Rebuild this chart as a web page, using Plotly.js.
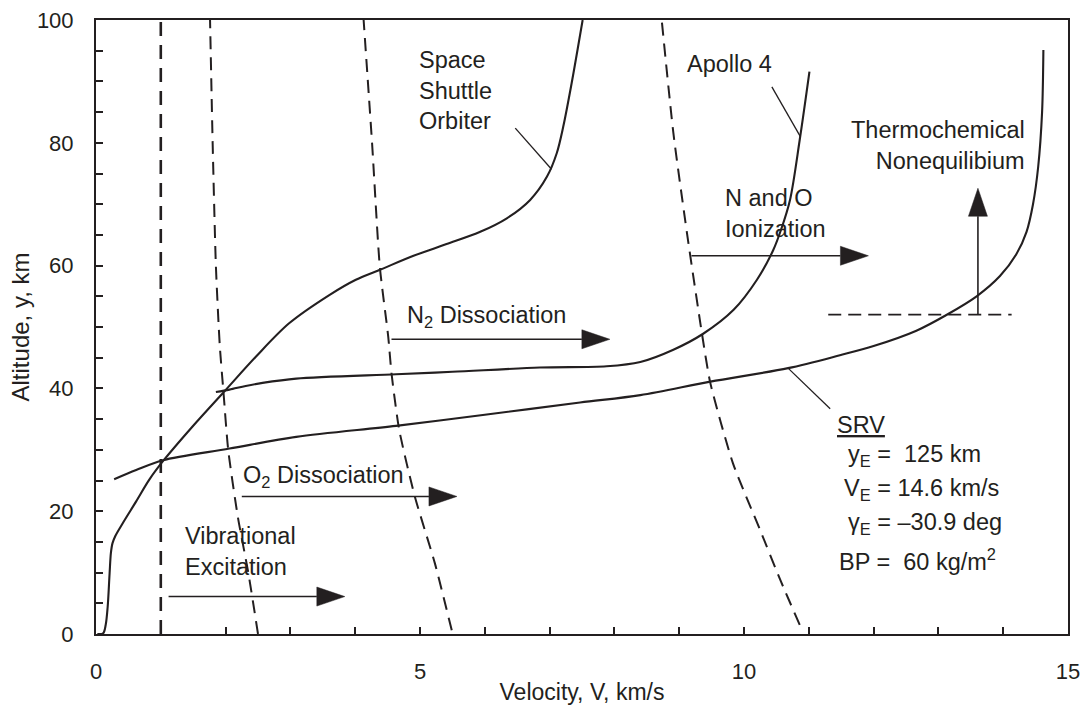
<!DOCTYPE html>
<html>
<head>
<meta charset="utf-8">
<script src="https://cdn.plot.ly/plotly-3.0.1.min.js"></script>
<style>
  html, body { margin: 0; padding: 0; background: #ffffff; }
  #chart { width: 1086px; height: 706px; }
</style>
</head>
<body>
<div id="chart"></div>
<script>
// Entry trajectories: velocity (km/s) vs altitude (km)
const shuttleV = [0.02, 0.11, 0.15, 0.18, 0.21, 0.23, 0.255, 0.30, 0.41, 0.62, 0.82, 1.03, 1.49, 1.98, 2.47, 2.98, 3.60, 4.01, 4.40, 4.90, 5.41, 5.93, 6.34, 6.70, 6.96, 7.11, 7.21, 7.34, 7.51];
const shuttleH = [0, 0.1, 1.5, 4.4, 9.9, 13.2, 14.8, 16.0, 18.0, 21.6, 25.1, 28.1, 33.8, 39.5, 45.2, 50.6, 55.2, 57.7, 59.4, 61.6, 63.5, 65.5, 67.7, 70.7, 74.5, 78.3, 82.6, 89.7, 100];

const apolloV = [1.85, 2.06, 2.31, 2.57, 3.09, 4.63, 5.5, 6.85, 7.88, 8.40, 8.91, 9.37, 9.84, 10.20, 10.45, 10.57, 10.71, 10.86, 11.01];
const apolloH = [39.4, 39.8, 40.4, 40.9, 41.6, 42.3, 42.7, 43.4, 43.6, 44.3, 46.3, 48.9, 52.8, 57.7, 62.5, 65.8, 70.7, 80.5, 91.6];

const srvV = [0.28, 0.62, 1.03, 2.06, 3.09, 4.63, 6.0, 7.47, 8.40, 9.48, 10.68, 11.48, 12.0, 12.66, 13.13, 13.59, 13.95, 14.2, 14.36, 14.46, 14.54, 14.6, 14.62];
const srvH = [25.2, 26.7, 28.3, 30.2, 32.1, 33.9, 35.7, 37.7, 38.9, 41.1, 43.3, 45.4, 46.9, 49.4, 52.0, 55.0, 58.3, 61.8, 65.5, 70.0, 76.1, 85.0, 95.1];

// Boundaries of the real-gas regimes
const vibV = [1.0, 1.0];
const vibH = [0, 100];
const o2V = [2.5, 2.35, 2.19, 2.04, 1.97, 1.91, 1.85, 1.80, 1.76];
const o2H = [0, 10, 19, 30, 39, 47, 60, 80, 100];
const n2V = [5.49, 5.23, 4.92, 4.68, 4.56, 4.51, 4.38, 4.26, 4.13];
const n2H = [0.6, 11.5, 22.4, 33.2, 42.5, 48.4, 59.8, 80, 100];
const ionV = [10.86, 10.56, 10.25, 9.83, 9.48, 9.35, 9.12, 8.91, 8.73];
const ionH = [1.5, 8.8, 16.9, 27.8, 40.9, 49, 65.3, 81.6, 100];
const noneqV = [11.30, 14.13];
const noneqH = [52, 52];

// Regime arrows (horizontal: start, tip, altitude; vertical: velocity, start, tip)
const arrowStartV = [1.12, 2.25, 4.56, 9.19];
const arrowTipV = [3.84, 5.57, 7.93, 11.92];
const arrowH = [6.1, 22.4, 48.0, 61.6];
const upArrowV = 13.61;
const upArrowH = [52, 72.6];

// Leader lines from labels to curves: [v0, h0, v1, h1]
const leaders = [
  [6.47, 82.4, 7.03, 75.7],
  [10.43, 89.1, 10.87, 81.0],
  [10.68, 43.3, 11.33, 36.7]
];

// Text labels
const labelText = [
  'Space<br>Shuttle<br>Orbiter',
  'Apollo 4',
  'N and O<br>Ionization',
  'Thermochemical<br>Nonequilibium',
  'N<sub>2</sub> Dissociation',
  'O<sub>2</sub> Dissociation',
  'Vibrational<br>Excitation'
];
const labelV = [4.95, 9.09, 9.67, 14.36, 4.77, 2.23, 1.34];
const labelH = [88.5, 92.9, 68.5, 79.6, 51.7, 25.6, 13.4];
const labelAnchor = ['left', 'left', 'left', 'right', 'left', 'left', 'left'];

const srvText = [
  '<u>SRV</u>',
  'y<sub>E</sub> =  125 km',
  'V<sub>E</sub> = 14.6 km/s',
  'γ<sub>E</sub> = –30.9 deg',
  'BP =  60 kg/m<sup>2</sup>'
];
const srvTextV = [11.40, 11.58, 11.51, 11.58, 11.43];
const srvTextH = [34.0, 29.0, 23.6, 18.0, 12.1];

const xTickVals = [0, 5, 10, 15];
const yTickVals = [0, 20, 40, 60, 80, 100];

// ---- drawing ----
const INK = '#231f20';
const FONT = 'Liberation Sans, Arial, Helvetica, sans-serif';
const W = 1086, H = 706;
const M = { l: 96, r: 18, t: 20, b: 72 };
const X_RANGE = [0, 15], Y_RANGE = [0, 100];
const pxPerV = (W - M.l - M.r) / (X_RANGE[1] - X_RANGE[0]);
const pxPerH = (H - M.t - M.b) / (Y_RANGE[1] - Y_RANGE[0]);

function solid(x, y) {
  return { x: x, y: y, mode: 'lines', type: 'scatter', hoverinfo: 'skip',
           line: { color: INK, width: 2.1, shape: 'spline', smoothing: 0.9 } };
}
function dashed(x, y, w, pattern) {
  return { x: x, y: y, mode: 'lines', type: 'scatter', hoverinfo: 'skip',
           line: { color: INK, width: w, dash: pattern, shape: 'spline', smoothing: 0.6 } };
}

const traces = [
  dashed(vibV, vibH, 2.6, '14px,9px'),
  dashed(o2V, o2H, 2, '13px,8px'),
  dashed(n2V, n2H, 2, '13px,8px'),
  dashed(ionV, ionH, 2, '13px,8px'),
  dashed(noneqV, noneqH, 1.7, '13px,7px'),
  solid(shuttleV, shuttleH),
  solid(apolloV, apolloH),
  solid(srvV, srvH)
];

// Arrow shafts and filled heads as layout shapes
const shapes = [];
const headLen = 28, headHalf = 9.5;
for (let i = 0; i < arrowTipV.length; i++) {
  const base = arrowTipV[i] - headLen / pxPerV;
  const hw = headHalf / pxPerH;
  shapes.push({ type: 'line', xref: 'x', yref: 'y', x0: arrowStartV[i], y0: arrowH[i], x1: base, y1: arrowH[i],
                line: { color: INK, width: 1.6 } });
  shapes.push({ type: 'path', xref: 'x', yref: 'y',
                path: `M ${base} ${arrowH[i] - hw} L ${arrowTipV[i]} ${arrowH[i]} L ${base} ${arrowH[i] + hw} Z`,
                fillcolor: INK, line: { color: INK, width: 0.5 } });
}
{
  const base = upArrowH[1] - headLen / pxPerH;
  const hw = headHalf / pxPerV;
  shapes.push({ type: 'line', xref: 'x', yref: 'y', x0: upArrowV, y0: upArrowH[0], x1: upArrowV, y1: base,
                line: { color: INK, width: 1.6 } });
  shapes.push({ type: 'path', xref: 'x', yref: 'y',
                path: `M ${upArrowV - hw} ${base} L ${upArrowV} ${upArrowH[1]} L ${upArrowV + hw} ${base} Z`,
                fillcolor: INK, line: { color: INK, width: 0.5 } });
}
leaders.forEach(function (l) {
  shapes.push({ type: 'line', xref: 'x', yref: 'y', x0: l[0], y0: l[1], x1: l[2], y1: l[3],
                line: { color: INK, width: 1.3 } });
});

const annotations = [];
labelText.forEach(function (t, i) {
  annotations.push({ x: labelV[i], y: labelH[i], xref: 'x', yref: 'y', text: t, showarrow: false,
                     xanchor: labelAnchor[i], yanchor: 'middle', align: labelAnchor[i],
                     font: { family: FONT, size: 23.5, color: INK } });
});
srvText.forEach(function (t, i) {
  annotations.push({ x: srvTextV[i], y: srvTextH[i], xref: 'x', yref: 'y', text: t, showarrow: false,
                     xanchor: 'left', yanchor: 'middle', align: 'left',
                     font: { family: FONT, size: 23.5, color: INK } });
});

const axisCommon = {
  showline: true, linewidth: 2, linecolor: INK, mirror: true,
  showgrid: false, zeroline: false,
  ticks: 'inside', ticklen: 7, tickwidth: 2, tickcolor: INK,
  tickfont: { family: FONT, size: 22, color: INK },
  fixedrange: true
};

const layout = {
  width: W, height: H,
  margin: M,
  paper_bgcolor: '#ffffff', plot_bgcolor: '#ffffff',
  showlegend: false,
  font: { family: FONT, color: INK },
  xaxis: Object.assign({}, axisCommon, {
    range: X_RANGE, tickmode: 'array', tickvals: xTickVals, ticktext: xTickVals.map(String),
    minor: { dtick: 1, tick0: 0, ticks: 'inside', ticklen: 7, tickwidth: 2, tickcolor: INK },
    ticklabelstandoff: 17,
    title: { text: 'Velocity, V, km/s', font: { family: FONT, size: 23, color: INK }, standoff: 0 }
  }),
  yaxis: Object.assign({}, axisCommon, {
    range: Y_RANGE, tickmode: 'array', tickvals: yTickVals, ticktext: yTickVals.map(String),
    minor: { dtick: 5, tick0: 0, ticks: 'inside', ticklen: 7, tickwidth: 2, tickcolor: INK },
    ticklabelstandoff: 16,
    title: { text: 'Altitude, y, km', font: { family: FONT, size: 24, color: INK }, standoff: 0 }
  }),
  shapes: shapes,
  annotations: annotations
};

Plotly.newPlot('chart', traces, layout, { displayModeBar: false, staticPlot: true });
</script>
</body>
</html>
